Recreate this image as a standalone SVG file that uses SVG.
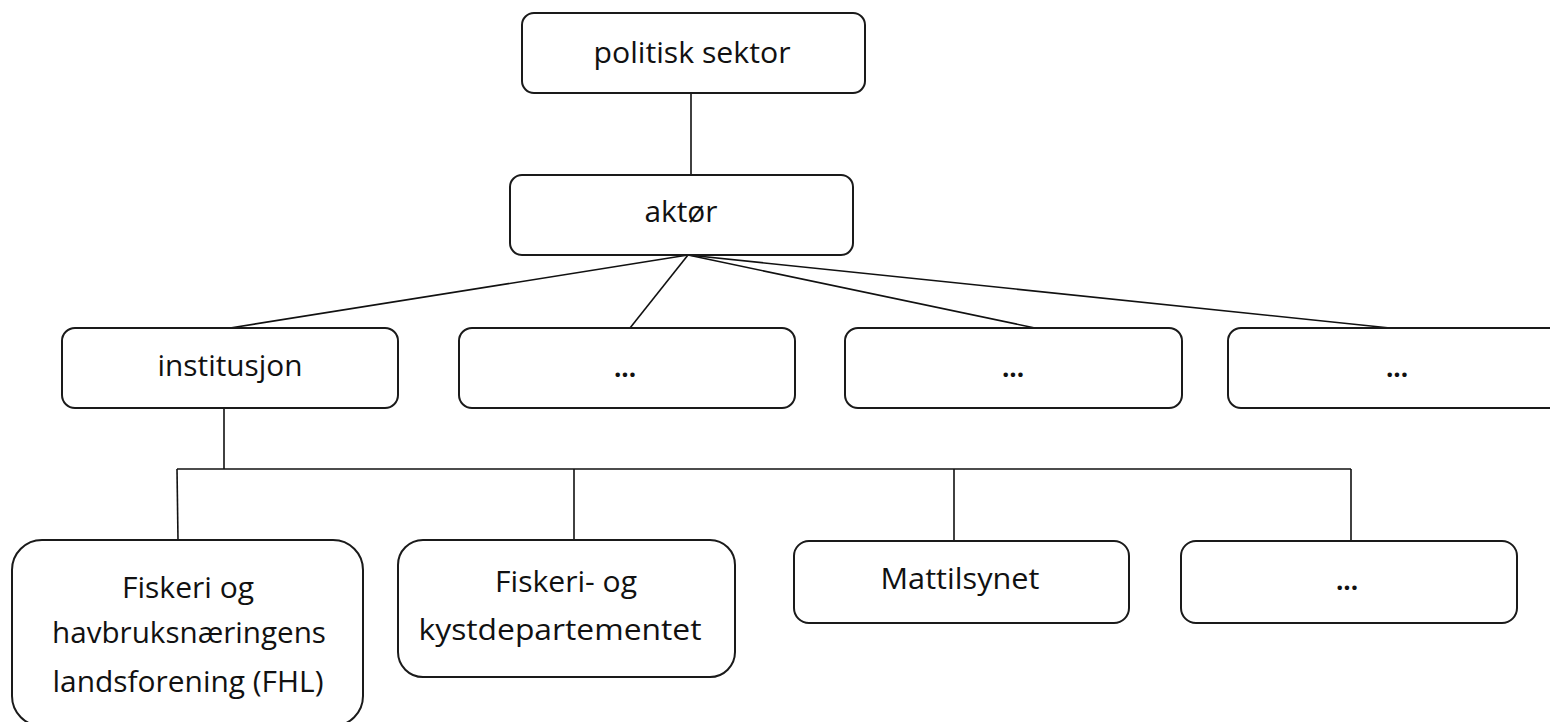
<svg xmlns="http://www.w3.org/2000/svg" width="1550" height="722" viewBox="0 0 1550 722">
<style>
.box{fill:#fff;stroke:#1a1a1a;stroke-width:2}
.lbl{font-family:"Open Sans","Liberation Sans",sans-serif;font-size:29px;fill:#111;text-anchor:middle}
.dots{font-family:"Open Sans","Liberation Sans",sans-serif;font-size:26px;font-weight:bold;fill:#111;text-anchor:middle}
.con{stroke:#111;stroke-width:1.6;fill:none}
</style>
<rect width="1550" height="722" fill="#fff"/>
<g id="connectors">
<line class="con" x1="691" y1="93" x2="691" y2="175"/>
<line class="con" x1="688" y1="255" x2="230" y2="328"/>
<line class="con" x1="688" y1="255" x2="630" y2="328"/>
<line class="con" x1="688" y1="255" x2="1035" y2="328"/>
<line class="con" x1="688" y1="255" x2="1390" y2="328"/>
<line class="con" x1="224" y1="408" x2="224" y2="469"/>
<line class="con" x1="177" y1="469" x2="1351" y2="469"/>
<line class="con" x1="177" y1="469" x2="178" y2="540"/>
<line class="con" x1="574" y1="469" x2="574" y2="540"/>
<line class="con" x1="954" y1="469" x2="954" y2="541"/>
<line class="con" x1="1351" y1="469" x2="1351" y2="541"/>
</g>
<g id="politisk-sektor">
<rect class="box" x="522" y="13" width="343" height="80" rx="12"/>
<text class="lbl" x="692" y="63" textLength="197" lengthAdjust="spacingAndGlyphs">politisk sektor</text>
</g>
<g id="aktor">
<rect class="box" x="510" y="175" width="343" height="80" rx="12"/>
<text class="lbl" x="681" y="222" textLength="73" lengthAdjust="spacingAndGlyphs">aktør</text>
</g>
<g id="institusjon">
<rect class="box" x="62" y="328" width="336" height="80" rx="13"/>
<text class="lbl" x="230" y="376" textLength="145" lengthAdjust="spacingAndGlyphs">institusjon</text>
</g>
<g id="aktor-2">
<rect class="box" x="459" y="328" width="336" height="80" rx="13"/>
<text class="dots" x="625" y="377">...</text>
</g>
<g id="aktor-3">
<rect class="box" x="845" y="328" width="337" height="80" rx="13"/>
<text class="dots" x="1013" y="377">...</text>
</g>
<g id="aktor-4">
<rect class="box" x="1228" y="328" width="340" height="80" rx="13"/>
<text class="dots" x="1397" y="377">...</text>
</g>
<g id="fhl">
<rect class="box" x="12" y="540" width="351" height="186" rx="30"/>
<text class="lbl" x="188" y="598" textLength="132" lengthAdjust="spacingAndGlyphs">Fiskeri og</text>
<text class="lbl" x="189" y="643" textLength="274" lengthAdjust="spacingAndGlyphs">havbruksnæringens</text>
<text class="lbl" x="188" y="692" textLength="271" lengthAdjust="spacingAndGlyphs">landsforening (FHL)</text>
</g>
<g id="fkd">
<rect class="box" x="398" y="540" width="337" height="137" rx="25"/>
<text class="lbl" x="566" y="592" textLength="142" lengthAdjust="spacingAndGlyphs">Fiskeri- og</text>
<text class="lbl" x="560" y="640" textLength="283" lengthAdjust="spacingAndGlyphs">kystdepartementet</text>
</g>
<g id="mattilsynet">
<rect class="box" x="794" y="541" width="335" height="82" rx="15"/>
<text class="lbl" x="960" y="589" textLength="159" lengthAdjust="spacingAndGlyphs">Mattilsynet</text>
</g>
<g id="institusjon-4">
<rect class="box" x="1181" y="541" width="336" height="82" rx="15"/>
<text class="dots" x="1347" y="590">...</text>
</g>
</svg>
